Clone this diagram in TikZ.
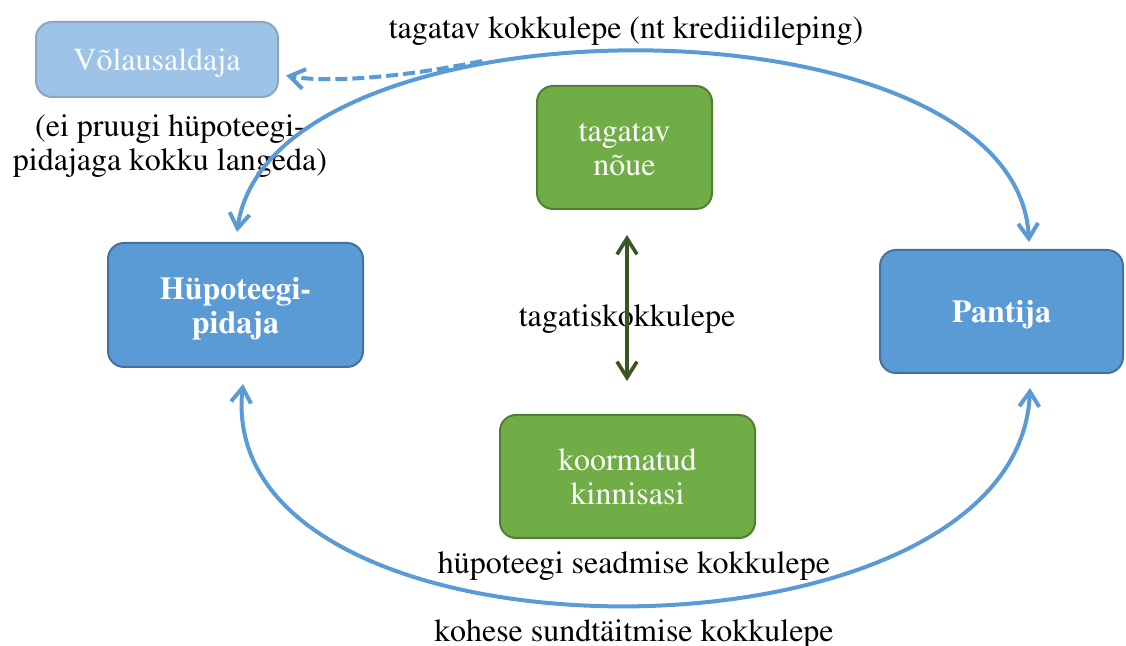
\documentclass[tikz,border=0pt]{standalone}
\usepackage[T1]{fontenc}
\usepackage{mathptmx}
\usetikzlibrary{arrows.meta}
\definecolor{boxblue}{HTML}{5B9BD5}
\definecolor{boxblueline}{HTML}{41719C}
\definecolor{lightblue}{HTML}{9DC3E6}
\definecolor{lightline}{HTML}{8EA4C0}
\definecolor{boxgreen}{HTML}{70AD47}
\definecolor{greenline}{HTML}{507E32}
\definecolor{darkgreen}{HTML}{375623}
\definecolor{arcblue}{HTML}{5B9BD5}
\newcommand{\mybt}[1]{\raisebox{-2.25pt}[\height][\depth]{\begin{tabular}{@{}c@{}}#1\end{tabular}}}
\tikzset{myhead/.tip={Straight Barb[length=7.5pt,width=10pt,line width=2pt]},
         myheadg/.tip={Straight Barb[length=8pt,width=10pt,line width=1.8pt]}}
\begin{document}
\begin{tikzpicture}[x=0.5pt,y=-0.5pt,
  every node/.style={font=\fontsize{16}{17}\selectfont, align=center, inner sep=0pt},
  bluebox/.style={draw=boxblueline, fill=boxblue, line width=1pt, rounded corners=8pt, text=white, font=\fontsize{16}{17}\selectfont\bfseries},
  lightbox/.style={draw=lightline, fill=lightblue, line width=1pt, rounded corners=8pt, text=white!95!lightblue},
  greenbox/.style={draw=greenline, fill=boxgreen, line width=1pt, rounded corners=8pt, text=white},
  bluearc/.style={draw=arcblue, line width=2pt, myhead-myhead},
  dasharc/.style={draw=arcblue, line width=2pt, dash pattern=on 6pt off 2.5pt, -myhead},
  greenarrow/.style={draw=darkgreen, line width=1.8pt, myheadg-myheadg},
  lbl/.style={text=black}
]
\useasboundingbox (0,0) rectangle (1126,646);

\node[lightbox, minimum width=121pt, minimum height=37.5pt] (vola) at (157,59.5) {\mybt{Võlausaldaja}};
\node[greenbox, minimum width=87.5pt, minimum height=61.5pt] (noue) at (624.5,147.5) {\mybt{tagatav\\nõue}};
\node[bluebox, minimum width=127.5pt, minimum height=62pt] (hyp) at (235.5,305) {\mybt{Hüpoteegi-\\pidaja}};
\node[bluebox, minimum width=121.5pt, minimum height=61.5pt] (pant) at (1001.5,311.5) {\mybt{Pantija}};
\node[greenbox, minimum width=127.5pt, minimum height=61.5pt] (koorm) at (627.5,476.5) {\mybt{koormatud\\kinnisasi}};

\node[lbl] (ltop) at (626,31) {tagatav kokkulepe (nt krediidileping)};
\node[lbl] (lleft) at (170,146) {(ei pruugi hüpoteegi-\\pidajaga kokku langeda)};
\node[lbl] (lmid) at (627,319) {tagatiskokkulepe};
\node[lbl] (lbot1) at (634,566) {hüpoteegi seadmise kokkulepe};
\node[lbl] (lbot2) at (634,634) {kohese sundtäitmise kokkulepe};

\draw[bluearc] ([xshift=0.75pt,yshift=5pt]hyp.north) .. controls (271,-10) and (1017,-10) .. ([xshift=13.75pt,yshift=3.5pt]pant.north);
\coordinate (dstart) at (482,61);
\draw[dasharc] (dstart) .. controls (390,80) and (320,82) .. ([xshift=3.5pt,yshift=-8pt]vola.east);
\draw[bluearc] ([xshift=3.75pt,yshift=-8pt]hyp.south) .. controls (212,678) and (1019,678) .. ([xshift=14.25pt,yshift=-7pt]pant.south);
\draw[greenarrow, shorten <=12.5pt, shorten >=16.5pt] ([xshift=1.25pt]noue.south) -- ([xshift=1.25pt]noue.south |- koorm.north);
\end{tikzpicture}
\end{document}
